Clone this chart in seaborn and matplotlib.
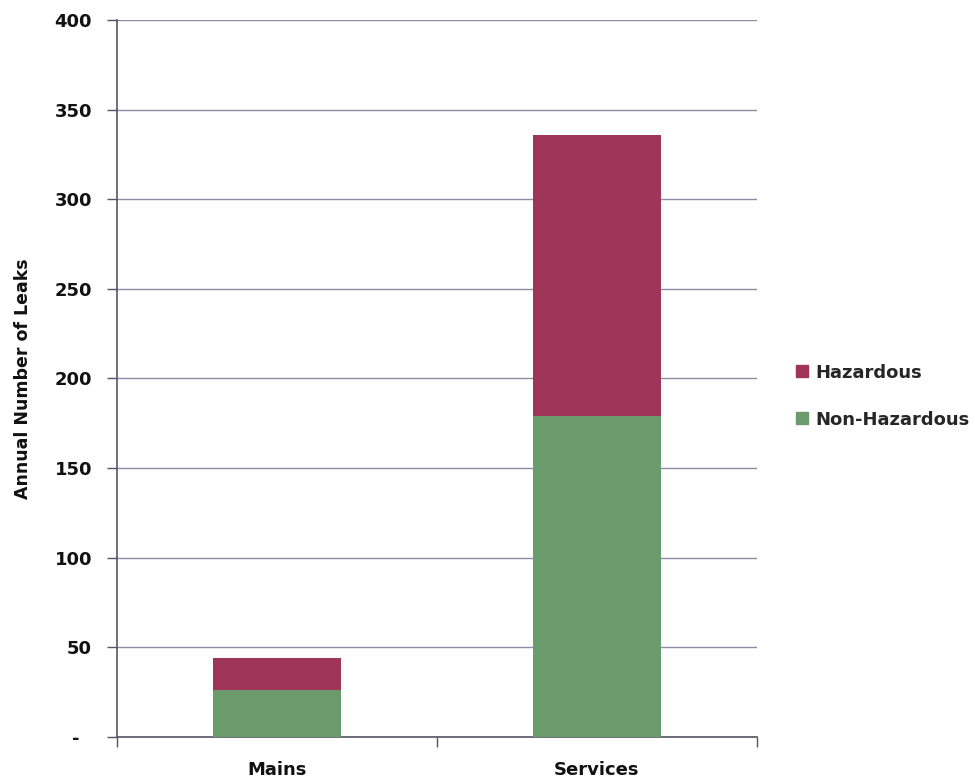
import matplotlib
matplotlib.use("Agg")
import matplotlib.pyplot as plt
import seaborn as sns
import pandas as pd
from matplotlib.patches import Patch

categories = ["Mains", "Services"]
non_hazardous = [26, 179]
hazardous = [18, 157]
yticks = [0, 50, 100, 150, 200, 250, 300, 350, 400]
ytick_labels = ["-  ", "50", "100", "150", "200", "250", "300", "350", "400"]

haz_color = "#a0355a"
nonhaz_color = "#6b9a6c"

sns.set_theme(style="white")
plt.rcParams["font.family"] = ["DejaVu Sans"]

df = pd.DataFrame({
    "category": categories,
    "non": non_hazardous,
    "total": [a + b for a, b in zip(non_hazardous, hazardous)],
})

fig = plt.figure(figsize=(9.75, 7.8), dpi=100)
ax = fig.add_axes([0.12, 0.0551, 0.6564, 0.9193])

sns.barplot(data=df, x="category", y="total", color=haz_color, width=0.4,
            saturation=1, linewidth=0, ax=ax, zorder=3)
sns.barplot(data=df, x="category", y="non", color=nonhaz_color, width=0.4,
            saturation=1, linewidth=0, ax=ax, zorder=3)

ax.set_xlim(-0.5, 1.5)
ax.set_ylim(0, 400)
ax.set_yticks(yticks)
ax.set_yticklabels(ytick_labels, fontsize=13, fontweight="bold", color="#111111")
ax.yaxis.grid(True, color="#8c8ca8", linewidth=1, zorder=0)
ax.set_axisbelow(True)

ax.set_xticks([-0.5, 0.5, 1.5], minor=False)
ax.set_xticklabels([])
ax.set_xticks([0, 1], minor=True)
ax.set_xticklabels(categories, minor=True, fontsize=13, fontweight="bold", color="#111111")
ax.tick_params(axis="x", which="major", direction="out", length=7, width=1, color="#555566", bottom=True)
ax.tick_params(axis="x", which="minor", length=0, pad=17)
ax.tick_params(axis="y", which="major", direction="out", length=7, width=1, color="#555566", left=True, pad=11)

for s in ["top", "right"]:
    ax.spines[s].set_visible(False)
for s in ["left", "bottom"]:
    ax.spines[s].set_color("#555566")
    ax.spines[s].set_linewidth(1.2)

ax.set_xlabel("")
ax.set_ylabel("Annual Number of Leaks", fontsize=12.5, fontweight="bold", color="#111111", labelpad=16)

handles = [Patch(color=haz_color, label="Hazardous"), Patch(color=nonhaz_color, label="Non-Hazardous")]
leg = fig.legend(handles=handles, loc="center left", bbox_to_anchor=(0.8165, 0.492),
                 frameon=False, prop={"size": 13, "weight": "bold"},
                 handlelength=0.65, handleheight=0.65, handletextpad=0.4, labelspacing=1.6,
                 borderpad=0, borderaxespad=0)

fig.savefig("out.png", dpi=100)
